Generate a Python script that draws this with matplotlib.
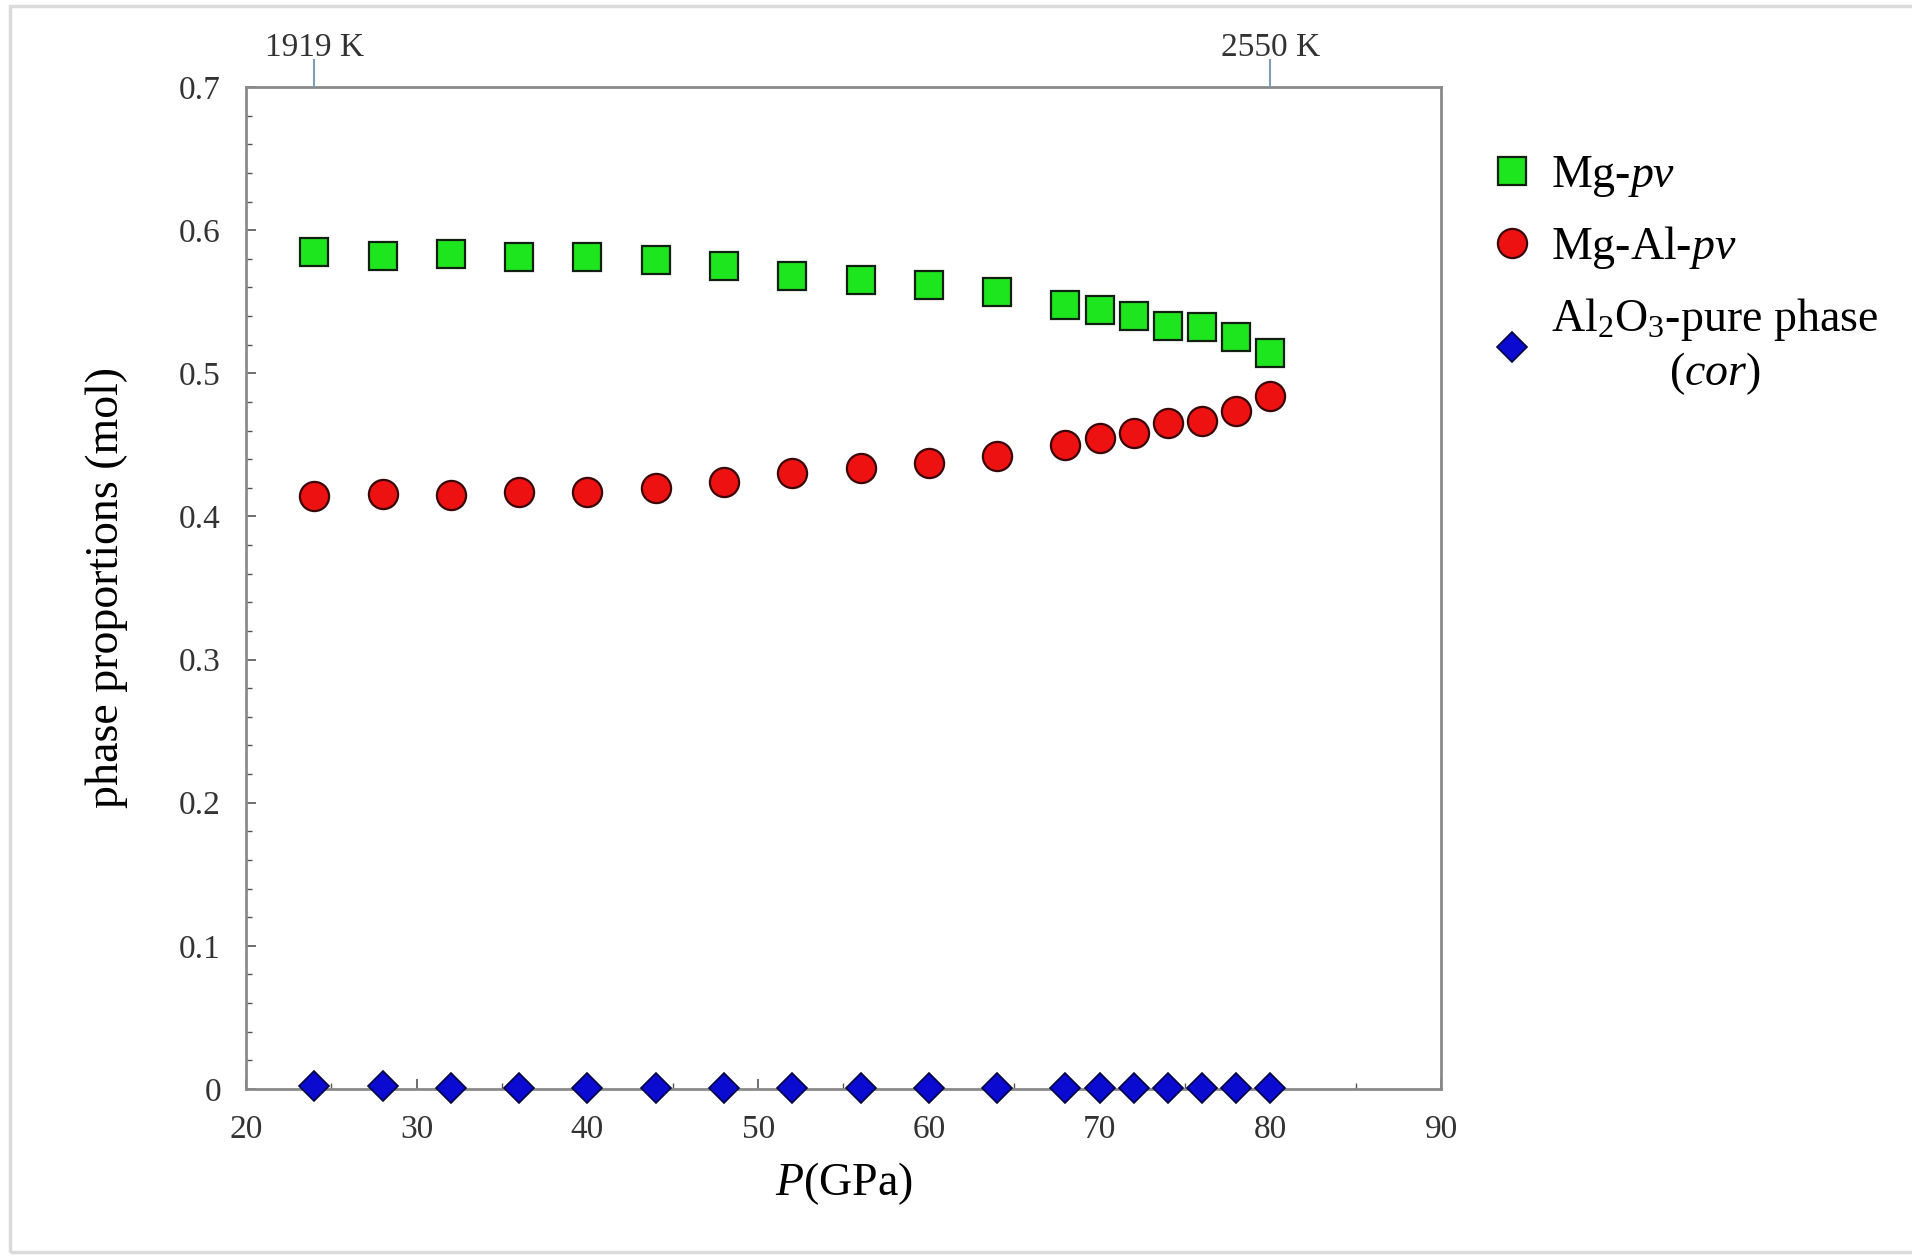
import matplotlib
matplotlib.use("Agg")
import matplotlib.pyplot as plt
from matplotlib.patches import Rectangle
from matplotlib.ticker import MultipleLocator

plt.rcParams['font.family'] = ['Liberation Serif', 'DejaVu Serif']
plt.rcParams['mathtext.fontset'] = 'custom'
plt.rcParams['mathtext.rm'] = 'Liberation Serif'
plt.rcParams['mathtext.it'] = 'Liberation Serif:italic'

# Pressure (GPa)
pressure = [24, 28, 32, 36, 40, 44, 48, 52, 56, 60, 64, 68, 70, 72, 74, 76, 78, 80]
# Phase proportions (mol)
mg_pv = [0.585, 0.582, 0.583, 0.581, 0.581, 0.579, 0.575, 0.568, 0.565, 0.562,
         0.557, 0.548, 0.544, 0.540, 0.533, 0.532, 0.525, 0.514]
mg_al_pv = [0.414, 0.416, 0.415, 0.417, 0.417, 0.420, 0.424, 0.430, 0.434, 0.437,
            0.442, 0.450, 0.455, 0.458, 0.465, 0.467, 0.474, 0.484]
al2o3 = [0.002, 0.002, 0.001, 0.001, 0.001, 0.001, 0.001, 0.001, 0.001, 0.001,
         0.001, 0.001, 0.001, 0.001, 0.001, 0.001, 0.001, 0.001]
# Temperatures at the first and last pressure
temp_ticks = [24, 80]
temp_labels = ['1919 K', '2550 K']

fig = plt.figure(figsize=(19.12, 12.58), dpi=100)
fig.patch.set_facecolor('white')
fig.add_artist(Rectangle((10 / 1912, 6 / 1258), 1.2, 1246 / 1258,
                         transform=fig.transFigure, fill=False,
                         edgecolor='#dadada', linewidth=2.5))

ax = fig.add_axes([246 / 1912, 1 - 1089 / 1258, 1195 / 1912, 1002 / 1258])

spine_color = '#8a8a8a'
for s in ax.spines.values():
    s.set_color(spine_color)
    s.set_linewidth(2.0)

ax.plot(pressure, mg_pv, linestyle='none', marker='s', markersize=20,
        markerfacecolor='#1ee61e', markeredgecolor='#102010', markeredgewidth=1.6,
        label='Mg-$\\it{pv}$', zorder=3)
ax.plot(pressure, mg_al_pv, linestyle='none', marker='o', markersize=21,
        markerfacecolor='#ee1111', markeredgecolor='#3a0505', markeredgewidth=1.6,
        label='Mg-Al-$\\it{pv}$', zorder=3)
ax.plot(pressure, al2o3, linestyle='none', marker='D', markersize=15,
        markerfacecolor='#0a0ad0', markeredgecolor='#050540', markeredgewidth=1.2,
        label='Al$_2$O$_3$-pure phase\n($\\it{cor}$)', zorder=3, clip_on=False)

ax.set_xlim(20, 90)
ax.set_ylim(0, 0.7)
ax.xaxis.set_major_locator(MultipleLocator(10))
ax.xaxis.set_minor_locator(MultipleLocator(5))
ax.yaxis.set_major_locator(MultipleLocator(0.1))
ax.yaxis.set_minor_locator(MultipleLocator(0.02))
ax.set_yticks([0, 0.1, 0.2, 0.3, 0.4, 0.5, 0.6, 0.7])
ax.set_yticklabels(['0', '0.1', '0.2', '0.3', '0.4', '0.5', '0.6', '0.7'])

ax.tick_params(axis='both', which='both', direction='in', color='#555555',
               labelcolor='#333333', labelsize=24, top=False, right=False)
ax.tick_params(axis='both', which='major', length=7, width=1.2)
ax.tick_params(axis='x', which='major', pad=18)
ax.tick_params(axis='y', which='major', pad=18)
ax.tick_params(axis='both', which='minor', length=4, width=1.0)

ax.set_xlabel('$\\it{P}$(GPa)', fontsize=33, labelpad=11)
ax.set_ylabel('phase proportions (mol)', fontsize=33, labelpad=37)

# Temperature axis along the top
tax = ax.twiny()
tax.set_xlim(ax.get_xlim())
tax.set_xticks(temp_ticks)
tax.set_xticklabels(temp_labels)
tax.tick_params(axis='x', direction='out', length=20, width=1.5, color='#7f9cb8',
                labelsize=24, labelcolor='#333333', pad=-3)
for s in tax.spines.values():
    s.set_visible(False)

leg = ax.legend(loc='upper left', bbox_to_anchor=(1494 / 1912, 1 - 154 / 1258),
                bbox_transform=fig.transFigure, frameon=False, fontsize=33,
                handlelength=0.8, handletextpad=0.45, labelspacing=0.55,
                borderaxespad=0, borderpad=0)
for t in leg.get_texts():
    t.set_multialignment('center')

fig.savefig('out.png', dpi=100, facecolor='white')
